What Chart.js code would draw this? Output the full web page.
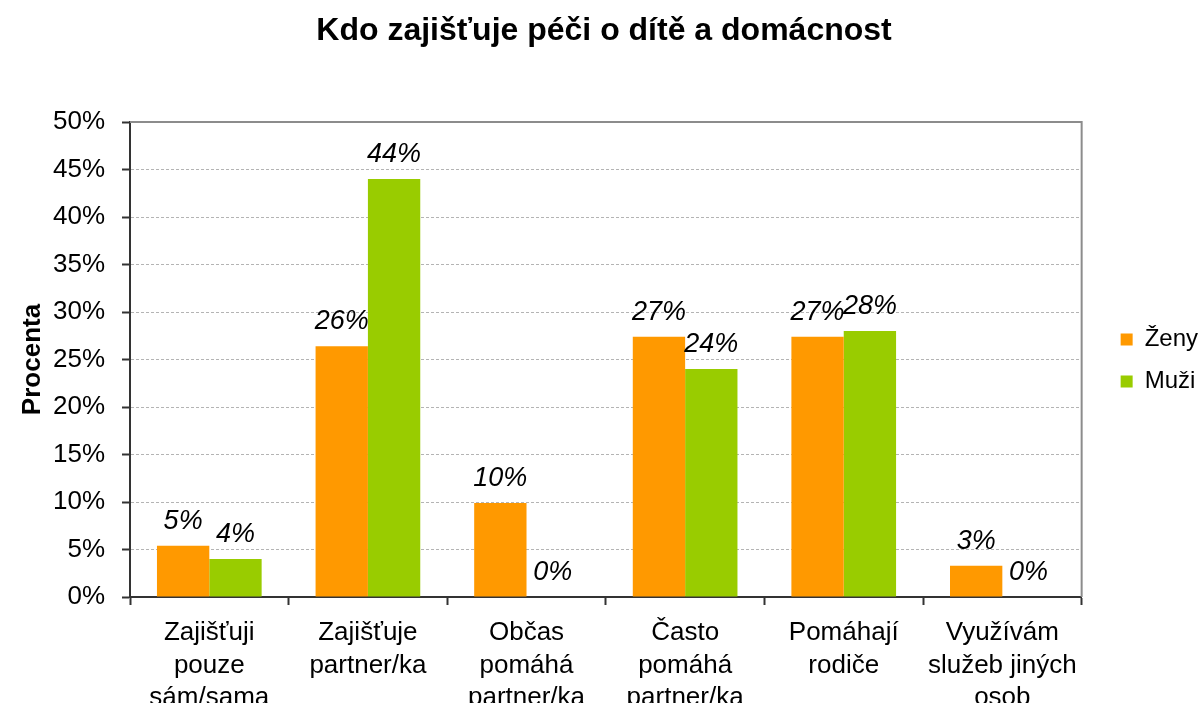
<!DOCTYPE html>
<html>
<head>
<meta charset="utf-8">
<title>Kdo zajišťuje péči o dítě a domácnost</title>
<script src="https://cdn.jsdelivr.net/npm/chart.js@4"></script>
<style>
  body { margin: 0; background: #fff; }
  #wrap { width: 1200px; height: 703px; }
</style>
</head>
<body>
<div id="wrap"><canvas id="chart" width="1200" height="703"></canvas></div>
<script>
// data
const categories = [
    ['Zajišťuji', 'pouze', 'sám/sama'],
    ['Zajišťuje', 'partner/ka'],
    ['Občas', 'pomáhá', 'partner/ka'],
    ['Často', 'pomáhá', 'partner/ka'],
    ['Pomáhají', 'rodiče'],
    ['Využívám', 'služeb jiných', 'osob']
];
const zeny = [5.4, 26.4, 9.9, 27.4, 27.4, 3.3];
const muzi = [4.0, 44.0, 0, 24.0, 28.0, 0];
const seriesNames = ['Ženy', 'Muži'];
const yTicks = [0, 5, 10, 15, 20, 25, 30, 35, 40, 45, 50];

const FONT = "'Liberation Sans', Arial, sans-serif";
Chart.defaults.font.family = FONT;
Chart.defaults.color = '#000';

// percent labels above the bars
const barLabels = {
    id: 'barLabels',
    afterDatasetsDraw(chart) {
        const ctx = chart.ctx;
        ctx.save();
        ctx.font = 'italic 27px ' + FONT;
        ctx.fillStyle = '#000';
        ctx.textAlign = 'center';
        ctx.textBaseline = 'alphabetic';
        chart.data.datasets.forEach((ds, i) => {
            chart.getDatasetMeta(i).data.forEach((bar, j) => {
                ctx.fillText(Math.round(ds.data[j]) + '%', bar.x, bar.y - 17);
            });
        });
        ctx.restore();
    }
};

// grey frame on top and right side of the plot area
const plotFrame = {
    id: 'plotFrame',
    afterDraw(chart) {
        const { ctx, chartArea: a } = chart;
        ctx.save();
        ctx.strokeStyle = '#8c8c8c';
        ctx.lineWidth = 2;
        ctx.beginPath();
        ctx.moveTo(a.left, a.top);
        ctx.lineTo(a.right, a.top);
        ctx.lineTo(a.right, a.bottom);
        ctx.stroke();
        ctx.restore();
    }
};

new Chart(document.getElementById('chart'), {
    type: 'bar',
    data: {
        labels: categories,
        datasets: [
            { label: seriesNames[0], data: zeny, backgroundColor: '#FF9900' },
            { label: seriesNames[1], data: muzi, backgroundColor: '#99CC00' }
        ]
    },
    options: {
        responsive: false,
        animation: false,
        categoryPercentage: 0.66,
        barPercentage: 1,
        layout: { padding: { top: 0, left: 0, bottom: 0, right: -8 } },
        plugins: {
            title: {
                display: true,
                text: 'Kdo zajišťuje péči o dítě a domácnost',
                font: { size: 32, weight: 'bold', lineHeight: 1.2 },
                color: '#000',
                padding: { top: 12, bottom: 71.6 }
            },
            legend: {
                position: 'right',
                // empty title only pushes the items a little lower
                title: { display: true, text: '', font: { size: 15, lineHeight: 1.2 }, padding: 0 },
                labels: {
                    boxWidth: 12,
                    boxHeight: 12,
                    padding: 18,
                    font: { size: 24 },
                    color: '#000'
                }
            },
            tooltip: { enabled: false }
        },
        scales: {
            x: {
                grid: {
                    display: true,
                    offset: true,
                    drawOnChartArea: false,
                    drawTicks: true,
                    tickLength: 8,
                    tickColor: '#333',
                    tickWidth: 2
                },
                border: { color: '#333', width: 2 },
                ticks: {
                    font: { size: 26, lineHeight: 1.25 },
                    padding: 12,
                    maxRotation: 0,
                    autoSkip: false
                },
                afterFit(scale) { scale.height = 106; }
            },
            y: {
                min: 0,
                max: 50,
                afterBuildTicks(scale) { scale.ticks = yTicks.map(v => ({ value: v })); },
                ticks: {
                    font: { size: 26 },
                    padding: 17,
                    callback: v => v + '%'
                },
                grid: {
                    color: '#b4b4b4',
                    lineWidth: 1,
                    tickLength: 8,
                    tickColor: '#333',
                    tickWidth: 2,
                    tickBorderDash: []
                },
                border: { color: '#333', width: 2, dash: [3, 2] },
                title: {
                    display: true,
                    text: 'Procenta',
                    font: { size: 26, weight: 'bold' },
                    color: '#000',
                    padding: { top: 17, bottom: 0 }
                },
                afterFit(scale) { scale.width = 130; }
            },
            // empty spacer between plot and legend
            gap: {
                type: 'linear',
                position: 'right',
                display: true,
                ticks: { display: false },
                grid: { display: false },
                border: { display: false },
                afterFit(scale) { scale.width = 21; }
            }
        }
    },
    plugins: [barLabels, plotFrame]
});
</script>
</body>
</html>
